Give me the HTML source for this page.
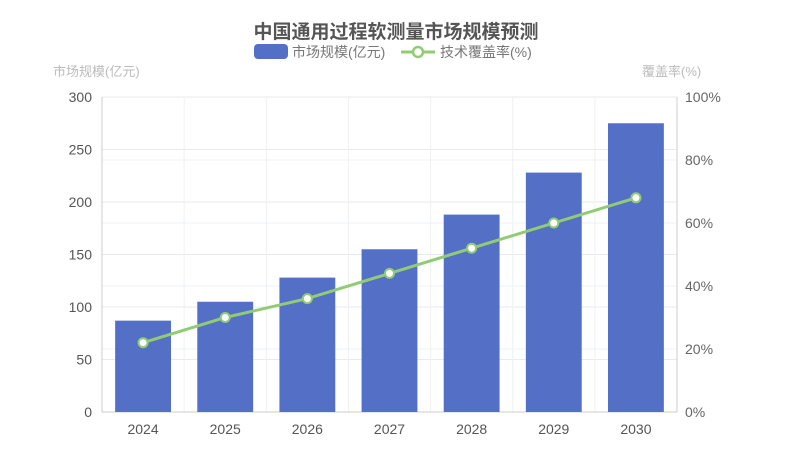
<!DOCTYPE html>
<html><head><meta charset="utf-8"><style>
body{margin:0;background:#fff;width:787px;height:453px;overflow:hidden}
svg text{font-family:"Liberation Sans","Noto Sans CJK SC",sans-serif}
</style></head><body>
<svg id="c" width="787" height="453">
<text x="396" y="38" text-anchor="middle" font-size="19" font-weight="bold" fill="#555">中国通用过程软测量市场规模预测</text>
<g><rect x="254" y="44" width="34" height="15" rx="4" fill="#5470c6"/><text x="292" y="57" font-size="14" fill="#777">市场规模(亿元)</text></g>
<g><line x1="401" y1="52" x2="435" y2="52" stroke="#91cc75" stroke-width="3"/><circle cx="418" cy="52" r="5" fill="#fff" stroke="#91cc75" stroke-width="2.5"/><text x="440" y="57" font-size="14" fill="#777">技术覆盖率(%)</text></g>
<text x="53" y="76" font-size="13" fill="#bbb">市场规模(亿元)</text>
<text x="642" y="76" font-size="13" fill="#bbb">覆盖率(%)</text>
<g id="g"></g>
</svg>
<script>
const categories=['2024','2025','2026','2027','2028','2029','2030'];
const marketValues=[87,105,128,155,188,228,275];
const coverageValues=[22,30,36,44,52,60,68];
const leftTicks=[0,50,100,150,200,250,300];
const rightTicks=[0,20,40,60,80,100];
const X0=102,X1=677,Y0=412,Y1=97,NS='http://www.w3.org/2000/svg';
const g=document.getElementById('g');
const band=(X1-X0)/categories.length;
const xc=i=>X0+band*(i+0.5);
const yl=v=>Y0-(v/300)*(Y0-Y1);
const yr=v=>Y0-(v/100)*(Y0-Y1);
function mk(t,a){const e=document.createElementNS(NS,t);for(const k in a)e.setAttribute(k,a[k]);g.appendChild(e);return e;}
rightTicks.forEach(v=>{const l=mk('line',{x1:X0,x2:X1,y1:yr(v),y2:yr(v),stroke:'#eef0f3'});


const t=mk('text',{x:X1+8,y:yr(v)+5,'font-size':14,fill:'#666'});t.textContent=v+'%';

});
leftTicks.forEach(v=>{const l=mk('line',{x1:X0,x2:X1,y1:yl(v),y2:yl(v),stroke:'#e8eaee'});


const t=mk('text',{x:X0-10,y:yl(v)+5,'font-size':14,fill:'#555','text-anchor':'end'});t.textContent=v;

});
for(let i=1;i<categories.length;i++){const l=mk('line',{x1:X0+band*i,x2:X0+band*i,y1:Y1,y2:Y0,stroke:'#eef0f3'});

}
mk('line',{x1:X0,x2:X0,y1:Y1,y2:Y0,stroke:'#ccc'});
mk('line',{x1:X1,x2:X1,y1:Y1,y2:Y0,stroke:'#ccc'});
mk('line',{x1:X0,x2:X1,y1:Y0,y2:Y0,stroke:'#ccc'});
const bw=band*0.68;
categories.forEach((c,i)=>{const b=mk('rect',{x:xc(i)-bw/2,y:yl(marketValues[i]),width:bw,height:Y0-yl(marketValues[i]),fill:'#5470c6'});


const t=mk('text',{x:xc(i),y:Y0+22,'font-size':14,fill:'#555','text-anchor':'middle'});t.textContent=c;

});
const ln=mk('polyline',{points:coverageValues.map((v,i)=>xc(i)+','+yr(v)).join(' '),fill:'none',stroke:'#91cc75','stroke-width':3});


coverageValues.forEach((v,i)=>{const p=mk('circle',{cx:xc(i),cy:yr(v),r:4.5,fill:'#fff',stroke:'#91cc75','stroke-width':2});

});
</script>
</body></html>
